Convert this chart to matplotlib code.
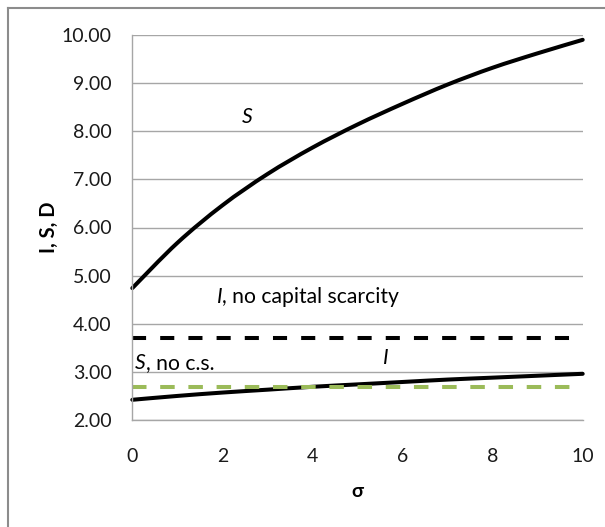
import matplotlib
matplotlib.use("Agg")
import matplotlib.pyplot as plt
from matplotlib.lines import Line2D
from matplotlib.path import Path
from matplotlib.patches import PathPatch

plt.rcParams['font.family'] = ['Lato', 'DejaVu Sans']

# sigma grid and curves
sigma = [0, 1, 2, 3, 4, 5, 6, 7, 8, 9, 10]
S_vals = [4.74, 5.68, 6.46, 7.11, 7.66, 8.14, 8.57, 8.97, 9.32, 9.62, 9.90]
I_vals = [2.42, 2.50, 2.57, 2.63, 2.69, 2.74, 2.79, 2.84, 2.88, 2.92, 2.96]
I_no_cs = 3.70
S_no_cs = 2.69

y_ticks = [2, 3, 4, 5, 6, 7, 8, 9, 10]
x_ticks = [0, 2, 4, 6, 8, 10]


def smooth_path(xs, ys):
    """Catmull-Rom style smoothed path through the points (spreadsheet 'smoothed line')."""
    pts = list(zip(xs, ys))
    n = len(pts)
    verts = [pts[0]]
    codes = [Path.MOVETO]
    for i in range(n - 1):
        p0 = pts[i - 1] if i > 0 else pts[i]
        p1 = pts[i]
        p2 = pts[i + 1]
        p3 = pts[i + 2] if i + 2 < n else pts[i + 1]
        c1 = (p1[0] + (p2[0] - p0[0]) / 6, p1[1] + (p2[1] - p0[1]) / 6)
        c2 = (p2[0] - (p3[0] - p1[0]) / 6, p2[1] - (p3[1] - p1[1]) / 6)
        verts += [c1, c2, p2]
        codes += [Path.CURVE4] * 3
    return Path(verts, codes)


fig = plt.figure(figsize=(6.05, 5.27), dpi=100)
ax = fig.add_axes([132.3 / 605, 1 - 420 / 527, (582.7 - 132.3) / 605, (420 - 35) / 527])

grid_col = '#a6a6a6'
lw = 2.9

ax.set_xlim(0, 10)
ax.set_ylim(2, 10)
ax.set_yticks(y_ticks)
ax.set_yticklabels([f"{v:.2f}" for v in y_ticks])
ax.set_xticks(x_ticks)
ax.set_xticklabels([str(v) for v in x_ticks])
ax.tick_params(length=0, labelsize=14, colors='#1a1a1a')
ax.tick_params(axis='y', pad=15)
ax.tick_params(axis='x', pad=20)
ax.yaxis.grid(True, color=grid_col, linewidth=1.0)
ax.set_axisbelow(True)
for side in ('top', 'right'):
    ax.spines[side].set_visible(False)
for side in ('left', 'bottom'):
    ax.spines[side].set_color(grid_col)
    ax.spines[side].set_linewidth(1.0)

# horizontal reference levels without capital scarcity
ax.plot([0, 10], [I_no_cs, I_no_cs], color='black', lw=lw, dashes=(3.5, 3.5),
        dash_capstyle='butt', clip_on=False)
ax.plot([0, 10], [S_no_cs, S_no_cs], color='#9bbb59', lw=lw, dashes=(3.6, 3.4),
        dash_capstyle='butt', clip_on=False)

# main curves, smoothed
for ys in (S_vals, I_vals):
    ax.add_patch(PathPatch(smooth_path(sigma, ys), facecolor='none', edgecolor='black',
                           lw=lw, capstyle='round', joinstyle='round', clip_on=False))

# curve labels
fs = 15.2
ax.text(2.56, 8.30, 'S', style='italic', fontsize=fs, ha='center', va='center')
t1 = ax.text(1.87, 4.56, 'I', style='italic', fontsize=fs, ha='left', va='center')
ax.annotate(', no capital scarcity', xy=(1, 0.5), xycoords=t1, fontsize=fs,
            ha='left', va='center')
t2 = ax.text(0.06, 3.18, 'S', style='italic', fontsize=fs, ha='left', va='center')
ax.annotate(', no c.s.', xy=(1, 0.5), xycoords=t2, fontsize=fs,
            ha='left', va='center')
ax.text(5.63, 3.29, 'I', style='italic', fontsize=fs, ha='center', va='center')

ax.set_xlabel('σ', fontsize=14, fontweight='bold', labelpad=13)
ax.set_ylabel('I, S, D', fontsize=14.5, fontweight='bold', labelpad=2)

# chart area border (left and top edges)
fig.add_artist(Line2D([8 / 605, 8 / 605], [0, 1 - 8 / 527], transform=fig.transFigure,
                      color='#8c8c8c', lw=1.5))
fig.add_artist(Line2D([8 / 605, 1], [1 - 8 / 527, 1 - 8 / 527], transform=fig.transFigure,
                      color='#8c8c8c', lw=1.5))

fig.savefig('out.png', dpi=100)
